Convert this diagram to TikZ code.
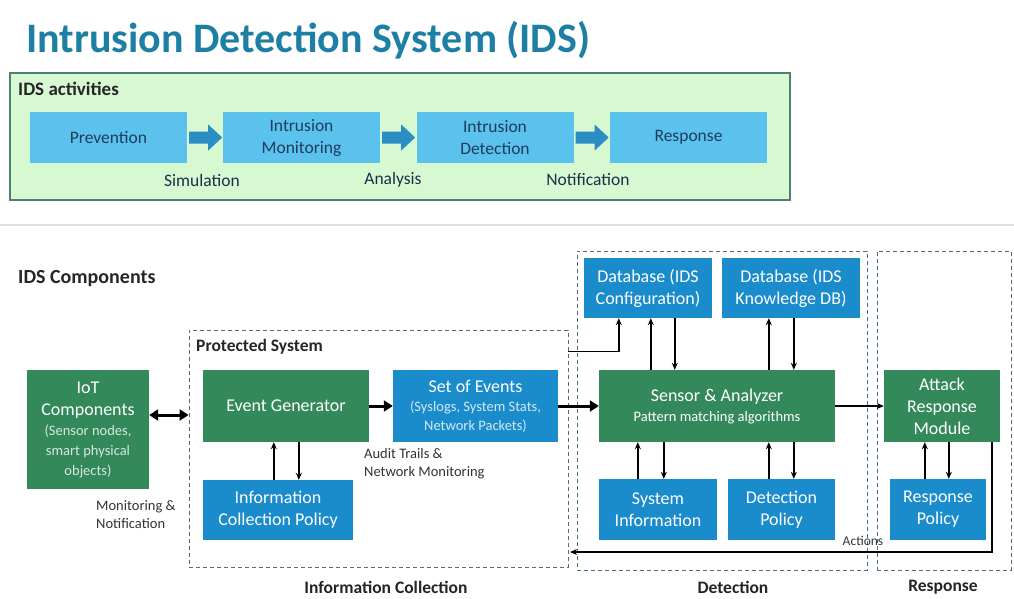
\documentclass[tikz,border=0pt]{standalone}
\usepackage{fontspec}
\setmainfont{Carlito}
\usetikzlibrary{arrows.meta,calc}

\definecolor{titleblue}{HTML}{1E7FA5}
\definecolor{actfill}{HTML}{D6F9D2}
\definecolor{actdraw}{HTML}{4C7E7A}
\definecolor{skyblue}{HTML}{5BC2EE}
\definecolor{navytext}{HTML}{1F3C5C}
\definecolor{blockarrow}{HTML}{2A8DC4}
\definecolor{compgreen}{HTML}{33895A}
\definecolor{compblue}{HTML}{1A8CCB}
\definecolor{dashcol}{HTML}{4A6E80}
\definecolor{labelgray}{HTML}{333333}

% one smaller line of text inside a box
\newcommand{\minorline}[2]{{\fontsize{14.5}{17}\selectfont\color{#1}#2}}

\tikzset{
  actbox/.style={rectangle, fill=skyblue, text=navytext, font=\fontsize{17.5}{22}\selectfont,
    align=center, inner sep=0pt, minimum width=157pt, minimum height=51pt},
  actlabel/.style={text=navytext!80!black, font=\fontsize{17.5}{21}\selectfont, inner sep=0pt},
  gbox/.style={rectangle, fill=compgreen, text=white, align=center, inner sep=0pt,
    font=\fontsize{18}{22}\selectfont},
  bbox/.style={rectangle, fill=compblue, text=white, align=center, inner sep=0pt,
    font=\fontsize{18}{22}\selectfont},
  region/.style={rectangle, draw=dashcol, line width=0.9pt, dash pattern=on 4pt off 3pt, inner sep=0pt},
  regionlabel/.style={text=labelgray!70!black, font=\fontsize{17.5}{21}\selectfont\bfseries, inner sep=0pt},
  note/.style={text=labelgray, font=\fontsize{14.5}{18}\selectfont, align=left, inner sep=0pt},
  arr/.style={-{Stealth[length=7pt,width=6pt]}, line width=1.4pt, black},
  fatarr/.style={-{Triangle[length=9pt,width=11pt]}, line width=3pt, black},
  dblarr/.style={{Triangle[length=9pt,width=11pt]}-{Triangle[length=9pt,width=11pt]}, line width=3pt, black},
  barrow/.style={fill=blockarrow},
}

\begin{document}
\begin{tikzpicture}[x=1pt, y=-1pt]
\useasboundingbox (0,0) rectangle (1014,598);

% ---------- title ----------
\node[anchor=base west, text=titleblue, inner sep=0pt,
  font=\fontsize{42}{50}\selectfont\bfseries] (title) at (26,52) {Intrusion Detection System (IDS)};

% ---------- activities ----------
\node[rectangle, fill=actfill, draw=actdraw, line width=1.5pt, minimum width=780pt,
  minimum height=127pt, inner sep=0pt] (actframe) at (400,136.5) {};
\node[anchor=west, inner sep=0pt, text=black!85, font=\fontsize{19}{22}\selectfont\bfseries]
  (acttitle) at (18,89) {IDS activities};

\node[actbox] (prev) at (108.5,137.5) {Prevention};
\node[actbox] (imon) at (301.5,137.5) {Intrusion\\Monitoring};
\node[actbox] (idet) at (495,137.5) {Intrusion\\Detection};
\node[actbox] (resp) at (688.5,137.5) {Response};

\foreach \a/\b in {prev/imon, imon/idet, idet/resp}{
  \fill[barrow] ($(\a.east)+(2,-6)$) -- ++(19,0) -- ++(0,-7) -- ++(14,13)
     -- ++(-14,13) -- ++(0,-7) -- ++(-19,0) -- cycle;
}

\node[actlabel] (lsim) at (202,180) {Simulation};
\node[actlabel] (lana) at (393,180) {Analysis};
\node[actlabel] (lnot) at (588,180) {Notification};

% separator
\draw[line width=1.8pt, black!13] (0,225) -- (1014,225);

% ---------- components ----------
\node[anchor=west, inner sep=0pt, text=black!85, font=\fontsize{20}{24}\selectfont\bfseries]
  (comptitle) at (18,279) {IDS Components};

% dashed regions
\node[region, minimum width=379pt, minimum height=237pt] (ps) at (378.5,448.5) {};
\node[region, minimum width=290pt, minimum height=319pt] (det) at (722,410.5) {};
\node[region, minimum width=134pt, minimum height=319pt] (rsp) at (944,410.5) {};

\node[anchor=west, inner sep=0pt, text=black!85, font=\fontsize{17.5}{21}\selectfont\bfseries]
  (pslabel) at (196,347) {Protected System};

\node[regionlabel] (lic) at (386,587) {Information Collection};
\node[regionlabel] (ldet) at (733,587) {Detection};
\node[regionlabel] (lrsp) at (943,587) {Response};

% boxes
\node[gbox, minimum width=122pt, minimum height=119pt] (iot) at (88,429.5)
  {IoT\\Components\\[-2pt]\minorline{white!80!compgreen}{(Sensor nodes,}\\[-2pt]
   \minorline{white!80!compgreen}{smart physical}\\[-2pt]\minorline{white!80!compgreen}{objects)}};
\node[gbox, minimum width=166pt, minimum height=72pt] (eg) at (286,406) {Event Generator};
\node[bbox, minimum width=165pt, minimum height=72pt] (soe) at (475.5,406)
  {Set of Events\\[-3pt]\minorline{white!80!compblue}{(Syslogs, System Stats,}\\[-3pt]
   \minorline{white!80!compblue}{Network Packets)}};
\node[bbox, minimum width=150pt, minimum height=60pt] (icp) at (278,510) {Information\\Collection Policy};

\node[bbox, minimum width=128pt, minimum height=60pt] (dbc) at (648,288) {Database (IDS\\Configuration)};
\node[bbox, minimum width=138pt, minimum height=60pt] (dbk) at (791,288) {Database (IDS\\Knowledge DB)};
\node[gbox, minimum width=236pt, minimum height=72pt] (sa) at (717,406)
  {Sensor \& Analyzer\\[-2pt]\minorline{white}{Pattern matching algorithms}};
\node[bbox, minimum width=118pt, minimum height=61pt] (si) at (658,509.5) {System\\Information};
\node[bbox, minimum width=107pt, minimum height=61pt] (dp) at (781.5,509.5) {Detection\\Policy};

\node[gbox, minimum width=116pt, minimum height=72pt] (arm) at (942,406) {Attack\\Response\\Module};
\node[bbox, minimum width=96pt, minimum height=61pt] (rp) at (938,509.5) {Response\\Policy};

% ---------- connectors ----------
\coordinate (iotout) at ([yshift=14.5pt]iot.east);
\draw[dblarr] (iotout) -- (iotout -| ps.west);

\draw[fatarr] (eg.east) -- (soe.west);
\draw[fatarr] (soe.east) -- (sa.west);

\draw[arr] ([xshift=71pt]icp.north west) -- ([xshift=71pt]eg.south west);
\draw[arr] ([xshift=96pt]eg.south west) -- ([xshift=96pt]icp.north west);

\draw[arr] ([yshift=-22pt]ps.north east) -| ([xshift=35pt]dbc.south west);

\draw[arr] ([xshift=52pt]sa.north west) -- ([xshift=67pt]dbc.south west);
\draw[arr] ([xshift=91pt]dbc.south west) -- ([xshift=76pt]sa.north west);
\draw[arr] ([xshift=170pt]sa.north west) -- ([xshift=47pt]dbk.south west);
\draw[arr] ([xshift=72pt]dbk.south west) -- ([xshift=195pt]sa.north west);

\draw[arr] ([xshift=39pt]si.north west) -- ([xshift=39pt]sa.south west);
\draw[arr] ([xshift=65pt]sa.south west) -- ([xshift=65pt]si.north west);
\draw[arr] ([xshift=41pt]dp.north west) -- ([xshift=170pt]sa.south west);
\draw[arr] ([xshift=195pt]sa.south west) -- ([xshift=66pt]dp.north west);

\draw[arr] (sa.east) -- (arm.west);

\draw[arr] ([xshift=35pt]rp.north west) -- ([xshift=41pt]arm.south west);
\draw[arr] ([xshift=65pt]arm.south west) -- ([xshift=59pt]rp.north west);

\coordinate (actend) at (570,552);
\draw[arr] ([xshift=108pt]arm.south west) |- (actend);
\node[inner sep=0pt, text=labelgray, font=\fontsize{13.5}{16}\selectfont] (lact) at (863,541) {Actions};

% ---------- notes ----------
\node[note, anchor=north west] (naudit) at (364,448) {Audit Trails \&\\Network Monitoring};
\node[note, anchor=north west] (nmon) at (96,500) {Monitoring \&\\Notification};

\end{tikzpicture}
\end{document}
